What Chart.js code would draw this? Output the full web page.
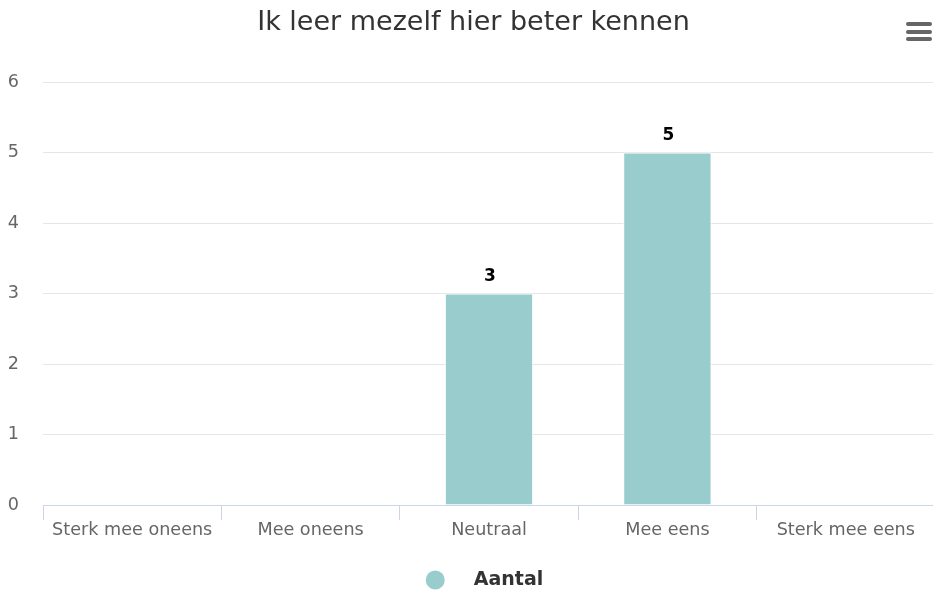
<!DOCTYPE html>
<html>
<head>
<meta charset="utf-8">
<script src="https://cdn.jsdelivr.net/npm/chart.js@4"></script>
<style>
  html, body { margin: 0; padding: 0; background: #fff; overflow: hidden; }
  #wrap { width: 935px; height: 594px; position: relative; }
</style>
</head>
<body>
<div id="wrap"><canvas id="chart"></canvas></div>
<script>
// data
const chartTitle = 'Ik leer mezelf hier beter kennen';
const categories = ['Sterk mee oneens', 'Mee oneens', 'Neutraal', 'Mee eens', 'Sterk mee eens'];
const seriesName = 'Aantal';
const values = [0, 0, 3, 5, 0];
const yTicks = [0, 1, 2, 3, 4, 5, 6];

const FONT = '"DejaVu Sans", sans-serif';
const barColor = '#99cccc';

// titel, menu knop, waarden boven de balken en legenda
const extras = {
  id: 'extras',
  afterDatasetsDraw(chart) {
    const ctx = chart.ctx;
    const meta = chart.getDatasetMeta(0);
    ctx.save();
    ctx.font = 'bold 17px ' + FONT;
    ctx.fillStyle = '#000';
    ctx.textAlign = 'center';
    ctx.textBaseline = 'middle';
    meta.data.forEach((bar, i) => {
      const v = chart.data.datasets[0].data[i];
      if (v > 0) ctx.fillText(String(v), bar.x + 1, bar.y - 17);
    });
    ctx.restore();
  },
  afterDraw(chart) {
    const ctx = chart.ctx;
    ctx.save();
    // titel
    ctx.font = '27px ' + FONT;
    ctx.fillStyle = '#333';
    ctx.textAlign = 'center';
    ctx.textBaseline = 'alphabetic';
    ctx.fillText(chartTitle, 473.5, 30);

    // menu (hamburger)
    ctx.fillStyle = '#666';
    [22, 30, 37].forEach(y => {
      ctx.beginPath();
      ctx.roundRect(906, y, 26, 4, 2);
      ctx.fill();
    });

    // legenda
    const ds = chart.data.datasets[0];
    ctx.font = 'bold 19px ' + FONT;
    const tw = ctx.measureText(ds.label).width;
    const r = 9.5, gap = 29;
    const total = r * 2 + gap + tw;
    const cx = (chart.chartArea.left + chart.chartArea.right) / 2 - 4.5;
    const x0 = cx - total / 2;
    const ly = 580;
    ctx.fillStyle = ds.backgroundColor;
    ctx.beginPath();
    ctx.arc(x0 + r, ly, r, 0, Math.PI * 2);
    ctx.fill();
    ctx.fillStyle = '#333';
    ctx.textAlign = 'left';
    ctx.textBaseline = 'middle';
    ctx.fillText(ds.label, x0 + r * 2 + gap, ly);
    ctx.restore();
  }
};

new Chart(document.getElementById('chart').getContext('2d'), {
  type: 'bar',
  data: {
    labels: categories,
    datasets: [{
      label: seriesName,
      data: values,
      backgroundColor: barColor,
      borderColor: '#ffffff',
      borderWidth: 1,
      categoryPercentage: 1,
      barPercentage: 0.495
    }]
  },
  options: {
    responsive: true,
    maintainAspectRatio: false,
    animation: false,
    layout: { padding: { top: 82, bottom: 50, left: 0, right: 0 } },
    plugins: {
      legend: { display: false },
      title: { display: false },
      tooltip: { enabled: false }
    },
    scales: {
      x: {
        offset: true,
        grid: {
          offset: true,
          drawOnChartArea: false,
          color: '#ccd6eb',
          tickLength: 15
        },
        border: { color: '#ccd6eb' },
        ticks: {
          color: '#666',
          font: { size: 17.6, family: FONT },
          padding: 0,
          maxRotation: 0,
          autoSkip: false
        },
        afterFit(scale) { scale.height = 39; }
      },
      y: {
        min: yTicks[0],
        max: yTicks[yTicks.length - 1],
        afterBuildTicks(scale) { scale.ticks = yTicks.map(v => ({ value: v })); },
        grid: { color: '#e6e6e6', drawTicks: false },
        border: { display: false },
        ticks: {
          color: '#666',
          font: { size: 17.6, family: FONT },
          padding: 24
        },
        afterFit(scale) { scale.width = 43; }
      }
    }
  },
  plugins: [extras]
});
</script>
</body>
</html>
